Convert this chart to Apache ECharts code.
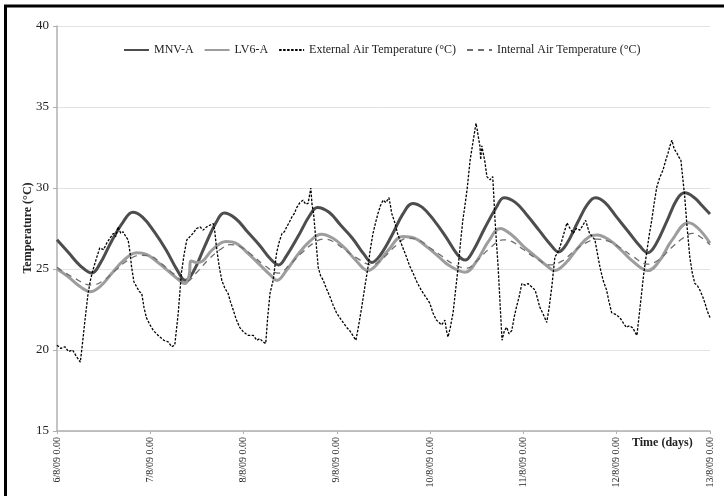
<!DOCTYPE html>
<html>
<head>
<meta charset="utf-8">
<script src="https://cdn.jsdelivr.net/npm/echarts@6/dist/echarts.min.js"></script>
<style>
html,body{margin:0;padding:0;background:#fff;}
#chart{width:724px;height:496px;}
</style>
</head>
<body>
<div id="chart"></div>
<script>
// x in hours since 6/8/09 0.00
const dayLabels = ['6/8/09 0.00','7/8/09 0.00','8/8/09 0.00','9/8/09 0.00','10/8/09 0.00','11/8/09 0.00','12/8/09 0.00','13/8/09 0.00'];
const yTicks = [15, 20, 25, 30, 35, 40];

const mnvA = [[0,26.8],[3,26.0],[6,25.2],[9,24.75],[11,25.3],[14,26.7],[17,27.9],[19.5,28.5],[22,28.2],[25,27.3],[28,26.2],[31,24.9],[33,24.3],[35,24.8],[38,26.4],[41,27.9],[43,28.45],[46,28.1],[49,27.3],[52,26.5],[55,25.6],[57,25.25],[59,25.8],[62,27.0],[65,28.3],[67,28.8],[70,28.5],[73,27.7],[76,26.9],[79,25.9],[81,25.4],[83,25.8],[86,27.0],[89,28.4],[91.5,29.05],[94,28.8],[97,28.0],[100,27.0],[103,25.9],[105,25.55],[107,26.1],[110,27.5],[113,28.8],[115,29.4],[118,29.1],[121,28.3],[124,27.4],[127,26.5],[129,26.05],[131,26.5],[134,27.9],[136.5,29.0],[138.5,29.4],[141,29.1],[144,28.2],[147,27.3],[150,26.4],[152,26.0],[154,26.5],[157,28.0],[159.5,29.3],[161.5,29.7],[164,29.4],[166,28.9],[168,28.4]];

const lv6A = [[0,25.0],[3,24.5],[6,23.9],[8.5,23.6],[11,23.9],[14,24.7],[17,25.5],[20.5,26.0],[23,25.9],[26,25.4],[29,24.8],[32,24.2],[33,24.1],[34,24.6],[34.5,25.5],[36,25.4],[37.5,25.5],[40,26.2],[43.5,26.7],[46,26.6],[49,26.0],[52,25.3],[55,24.6],[56.6,24.3],[59,24.9],[62,25.9],[65,26.7],[68,27.15],[71,26.9],[74,26.3],[77,25.5],[80,24.9],[82,25.2],[85,26.1],[89,27.0],[92,26.9],[95,26.4],[98,25.8],[101,25.2],[105,24.8],[108,25.5],[111,26.7],[114,27.5],[117,27.1],[120,26.4],[123,25.8],[126,25.2],[128,24.9],[131,25.4],[134,26.3],[137,27.0],[139,27.1],[142,26.8],[145,26.2],[148,25.5],[152,24.9],[155,25.5],[158,26.7],[162.5,27.85],[165,27.5],[168,26.6]];

const internalAir = [[0,25.1],[4,24.5],[9,24.0],[12,24.3],[15,24.9],[18,25.5],[21.5,25.85],[24,25.8],[27,25.3],[30,24.7],[33,24.2],[36,24.8],[39,25.6],[42,26.2],[44.5,26.5],[47,26.4],[50,25.9],[53,25.3],[57,24.75],[60,25.3],[63,26.0],[66,26.6],[68.5,26.85],[71,26.7],[74,26.2],[77,25.7],[81,25.25],[84,25.7],[87,26.4],[90,26.9],[93,26.8],[96,26.3],[99,25.8],[102,25.3],[105.5,25.05],[108,25.5],[111,26.2],[114.7,26.8],[117,26.7],[120,26.2],[123,25.7],[127,25.25],[130,25.5],[133,26.1],[136,26.6],[139,26.85],[142,26.7],[145,26.3],[148,25.8],[152,25.3],[155,25.6],[158,26.3],[161,26.9],[163.5,27.2],[166,26.9],[168,26.5]];

const externalAir = [[0,20.3],[1,20.1],[2,20.2],[3,19.9],[4,20.0],[5,19.6],[6,19.25],[6.6,20.5],[7.2,21.85],[8,23.5],[8.6,24.3],[9.2,24.9],[10.2,25.7],[11,26.3],[12,26.2],[12.8,26.6],[13.6,26.9],[14.5,27.2],[15.1,27.0],[15.7,27.6],[16.4,27.2],[17,27.3],[17.7,27.0],[18.3,26.8],[18.8,26.0],[19.2,25.1],[19.8,24.2],[20.5,23.9],[21.2,23.6],[21.8,23.5],[22.4,22.6],[23,22.0],[23.8,21.6],[24.8,21.2],[25.6,21.0],[26.5,20.8],[27.5,20.6],[28.6,20.5],[29.5,20.2],[30.3,20.3],[31.2,22.3],[32,24.75],[32.7,25.9],[33.4,26.8],[34.2,27.0],[35,27.2],[35.9,27.5],[36.8,27.6],[37.6,27.4],[38.5,27.6],[39.3,27.7],[40.2,27.8],[40.6,27.3],[41,26.4],[41.7,25.2],[42.4,24.3],[43.2,23.8],[44,23.5],[44.6,23.0],[45.3,22.5],[46.1,21.9],[47,21.4],[48,21.1],[49.2,20.9],[50.5,20.9],[51.4,20.6],[52.2,20.7],[53,20.5],[53.7,20.4],[54.2,22.0],[54.8,23.5],[55.6,24.3],[56.5,26.0],[57.2,26.7],[57.9,27.2],[58.5,27.3],[59.1,27.6],[59.8,27.9],[60.4,28.2],[61,28.4],[61.7,28.8],[62.5,29.1],[63.3,29.25],[64,29.0],[64.6,29.05],[65.3,30.0],[65.6,29.0],[66,28.45],[66.6,26.8],[67.2,25.1],[67.8,24.6],[68.5,24.3],[69.3,23.8],[70.2,23.3],[71,22.8],[71.9,22.3],[72.7,22.0],[73.6,21.7],[74.5,21.4],[75.3,21.2],[76.1,20.9],[76.9,20.6],[77.6,21.5],[78.4,22.65],[79.2,23.9],[80,25.1],[80.6,26.2],[81.3,27.2],[82,27.9],[82.6,28.45],[83.2,28.9],[83.9,29.25],[84.6,29.1],[85.4,29.4],[85.8,28.9],[86.1,28.45],[87,27.8],[87.6,27.2],[88.2,26.8],[89,26.3],[89.9,25.75],[90.7,25.2],[91.6,24.75],[92.6,24.2],[93.7,23.7],[94.8,23.3],[95.9,22.9],[96.7,22.3],[97.6,21.85],[98.3,21.7],[98.9,21.55],[99.4,21.7],[99.8,21.85],[100.2,21.2],[100.6,20.8],[101.2,21.4],[101.9,22.3],[102.5,23.6],[103.2,25.1],[103.8,26.6],[104.4,28.0],[105,29.0],[105.5,29.9],[106.3,31.75],[107.1,32.95],[107.8,34.0],[108.1,33.6],[108.4,33.15],[108.8,32.6],[109,31.75],[109.3,32.6],[109.6,32.5],[110.1,31.6],[110.6,30.7],[111.4,30.5],[112.1,30.7],[112.4,29.4],[112.7,28.0],[113.1,26.5],[113.5,25.1],[114,22.8],[114.5,20.6],[115.1,21.2],[115.7,21.4],[116.3,21.0],[117,21.2],[117.6,22.0],[118.2,22.65],[118.9,23.3],[119.6,24.1],[120.4,24.0],[121.2,24.1],[122.1,23.9],[123,23.7],[123.6,23.2],[124.2,22.65],[125.1,22.2],[126,21.7],[126.6,22.6],[127.3,23.9],[128.1,25.75],[128.8,26.0],[129.4,26.35],[130.3,27.1],[131.2,27.85],[132,27.5],[132.8,27.2],[133.6,27.5],[134.5,27.4],[135.3,27.7],[136,28.0],[136.5,27.6],[137,27.2],[137.7,27.0],[138.4,26.8],[139,26.0],[139.7,25.1],[140.5,24.3],[141.4,23.7],[142,23.0],[142.7,22.3],[143.7,22.2],[144.8,22.0],[145.6,21.7],[146.5,21.4],[147.3,21.5],[148.2,21.35],[148.7,21.1],[149.2,20.9],[149.8,22.2],[150.4,23.5],[151,24.8],[151.7,26.0],[152.3,27.0],[153,28.0],[153.6,29.0],[154.3,30.05],[155,30.6],[155.9,31.1],[156.6,31.7],[157.2,32.15],[157.7,32.6],[158.2,32.95],[158.8,32.4],[159.5,32.15],[160,31.9],[160.5,31.75],[161,30.6],[161.5,29.45],[162.1,27.6],[162.8,25.75],[163.4,24.8],[164.1,24.1],[164.7,24.0],[165.4,23.7],[166.1,23.3],[166.7,22.9],[167.3,22.4],[168,22.0]];

const seriesNames = ['MNV-A', 'LV6-A', 'External Air Temperature (°C)', 'Internal Air Temperature (°C)'];

const chart = echarts.init(document.getElementById('chart'), null, {renderer: 'canvas'});
const serif = 'Liberation Serif';
chart.setOption({
  animation: false,
  backgroundColor: '#fff',
  grid: {left: 57, right: 14, top: 26, bottom: 65, containLabel: false},
  legend: {
    left: 118, top: 39,
    itemWidth: 25, itemHeight: 10, itemGap: 10,
    itemStyle: {opacity: 0},
    textStyle: {fontFamily: serif, fontSize: 12, color: '#222'},
    data: seriesNames
  },
  xAxis: {
    type: 'value', min: 0, max: 168, interval: 24,
    axisLine: {show: true, lineStyle: {color: '#b0b0b0', width: 1.5}},
    axisTick: {show: true, length: 3, lineStyle: {color: '#b0b0b0'}},
    splitLine: {show: false},
    axisLabel: {
      rotate: 90, margin: 6, fontFamily: serif, fontSize: 10, color: '#222',
      formatter: v => dayLabels[Math.round(v / 24)]
    }
  },
  yAxis: {
    type: 'value', min: 15, max: 40, interval: 5,
    axisLine: {show: true, lineStyle: {color: '#b0b0b0', width: 1.5}},
    axisTick: {show: true, length: 4, lineStyle: {color: '#b0b0b0'}},
    splitLine: {show: true, lineStyle: {color: '#e2e2e2', width: 1}},
    axisLabel: {
      margin: 8, fontFamily: serif, fontSize: 13, color: '#222',
      formatter: v => yTicks.indexOf(v) >= 0 ? String(v) : ''
    }
  },
  graphic: [
    {type: 'line', shape: {x1: 5.5, y1: 5, x2: 5.5, y2: 496}, style: {stroke: '#000', lineWidth: 3}},
    {type: 'line', shape: {x1: 4, y1: 6, x2: 724, y2: 6}, style: {stroke: '#000', lineWidth: 3}},
    {type: 'text', x: 28, y: 228, rotation: Math.PI / 2,
     style: {text: 'Temperature (°C)', font: 'bold 12px "Liberation Serif"', fill: '#222', align: 'center', verticalAlign: 'middle'}},
    {type: 'text', x: 632, y: 443,
     style: {text: 'Time (days)', font: 'bold 12px "Liberation Serif"', fill: '#222', align: 'left', verticalAlign: 'middle'}}
  ],
  series: [
    {name: seriesNames[0], type: 'line', data: mnvA, smooth: 0.4, symbol: 'none', z: 2,
     lineStyle: {color: '#4d4d4d', width: 3}, itemStyle: {color: '#4d4d4d'}},
    {name: seriesNames[1], type: 'line', data: lv6A, smooth: 0.4, symbol: 'none', z: 2,
     lineStyle: {color: '#9d9d9d', width: 3}, itemStyle: {color: '#9d9d9d'}},
    {name: seriesNames[2], type: 'line', data: externalAir, smooth: false, symbol: 'none', z: 4,
     lineStyle: {color: '#000', width: 1.3, type: [2.5, 1.5]}, itemStyle: {color: '#000'}},
    {name: seriesNames[3], type: 'line', data: internalAir, smooth: 0.4, symbol: 'none', z: 3,
     lineStyle: {color: '#6e6e6e', width: 1.3, type: [6, 5]}, itemStyle: {color: '#6e6e6e'}}
  ]
});
</script>
</body>
</html>
